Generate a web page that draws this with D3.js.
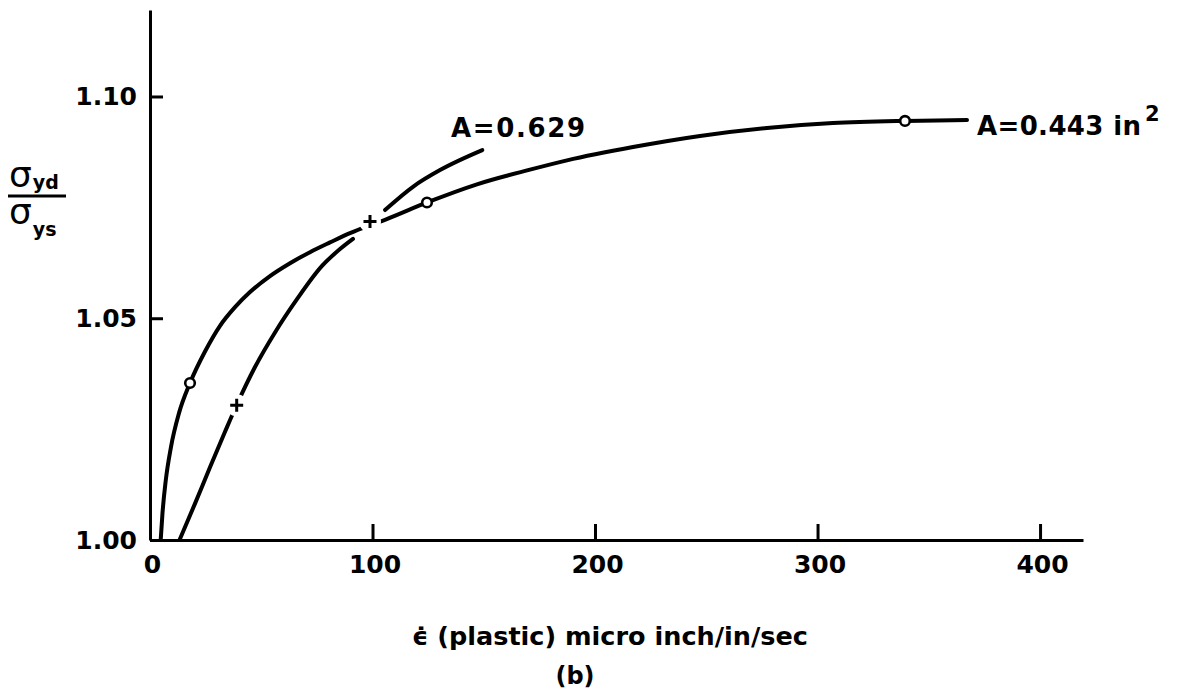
<!DOCTYPE html>
<html><head><meta charset="utf-8">
<script src="https://cdn.jsdelivr.net/npm/d3@7"></script>
<style>
body{margin:0;background:#fff}
svg{display:block}
text{font-family:"DejaVu Sans",sans-serif;fill:#000}
</style>
</head><body>
<svg id="c" width="1184" height="695"></svg>
<script>
// ---- data ----
const xTicks = [0, 100, 200, 300, 400];
const yTicks = [1.00, 1.05, 1.10];
const yTickLabels = ["1.00", "1.05", "1.10"];

// A = 0.443 in^2 curve (open circles)
const curve443 = [[4.81,1.0000],[5.62,1.0061],[7.10,1.0135],[9.44,1.0210],[13.03,1.0286],[17.98,1.0354],
  [24.72,1.0425],[31.46,1.0483],[38.20,1.0525],[44.94,1.0559],[53.93,1.0595],[62.92,1.0624],
  [71.90,1.0649],[80.89,1.0671],[89.88,1.0692],[98.42,1.0709],[105.61,1.0722],[124.48,1.0761],
  [146.95,1.0802],[170.77,1.0835],[187.40,1.0856],[217.06,1.0886],[247.17,1.0911],[277.28,1.0929],
  [306.94,1.0940],[339.30,1.0945],[367.17,1.0947]];
const points443 = [[17.98,1.0354],[124.48,1.0761],[339.30,1.0945]];

// A = 0.629 curve (plus markers), drawn in two pieces
const curve629Lower = [[13.26,1.0000],[20.22,1.0082],[26.96,1.0164],[33.71,1.0244],[39.10,1.0306],
  [47.19,1.0390],[56.18,1.0468],[66.06,1.0543],[77.30,1.0618],[85.39,1.0656],[91.23,1.0679]];
const curve629Upper = [[105.61,1.0744],[118.33,1.0797],[130.33,1.0834],[149.34,1.0879]];
const points629 = [[38.96,1.0304],[98.87,1.0718]];

const labels = [
  {text:"A=0.629", x:451, y:137, w:134},
  {text:"A=0.443 in", x:977, y:135, w:164, sup:"2"}
];

// ---- drawing ----
const svg = d3.select("#c");
const x = d3.scaleLinear().domain([0, 419.3]).range([150, 1083]);
const y = d3.scaleLinear().domain([1.0, 1.1195]).range([540, 10]);

const line = d3.line().x(d=>x(d[0])).y(d=>y(d[1])).curve(d3.curveMonotoneX);

// axes
const gx = svg.append("g").attr("transform","translate(0,540)")
  .call(d3.axisBottom(x).tickValues(xTicks).tickSizeInner(-16).tickSizeOuter(0).tickPadding(15).tickFormat(d3.format("d")));
const gy = svg.append("g").attr("transform","translate(150,0)")
  .call(d3.axisLeft(y).tickValues(yTicks).tickSizeInner(-13).tickSizeOuter(0).tickPadding(13).tickFormat((d,i)=>yTickLabels[i]));
[gx, gy].forEach(g=>{
  g.select(".domain").attr("stroke","#000").attr("stroke-width",3);
  g.selectAll(".tick line").attr("stroke","#000").attr("stroke-width",3);
  g.selectAll(".tick text").attr("font-size",25).attr("font-weight","bold")
    .attr("font-family","DejaVu Sans").attr("fill","#000");
});
gx.selectAll(".tick text").attr("dx", 2);

// curves
const curves = svg.append("g").attr("fill","none").attr("stroke","#000").attr("stroke-width",4).attr("stroke-linecap","round");
curves.append("path").attr("d", line(curve443));
curves.append("path").attr("d", line(curve629Lower));
curves.append("path").attr("d", line(curve629Upper));

// plus markers with white halo (gaps in the line)
const pg = svg.append("g");
pg.selectAll("circle.halo").data(points629).join("circle")
  .attr("cx",d=>x(d[0])).attr("cy",d=>y(d[1])).attr("r",11).attr("fill","#fff");
pg.selectAll("path.plus").data(points629).join("path")
  .attr("d",d=>{const cx=x(d[0]),cy=y(d[1]),a=6.5;return `M${cx-a},${cy}H${cx+a}M${cx},${cy-a}V${cy+a}`;})
  .attr("stroke","#000").attr("stroke-width",3).attr("fill","none");

// open circle markers
svg.append("g").selectAll("circle").data(points443).join("circle")
  .attr("cx",d=>x(d[0])).attr("cy",d=>y(d[1])).attr("r",4.8)
  .attr("fill","#fff").attr("stroke","#000").attr("stroke-width",2.6);

// curve labels
labels.forEach(l=>{
  svg.append("text").attr("x",l.x).attr("y",l.y).attr("font-size",26).attr("font-weight","bold")
    .attr("textLength",l.w).attr("lengthAdjust","spacing").text(l.text);
  if(l.sup){
    svg.append("text").attr("x",l.x+l.w+4).attr("y",l.y-14).attr("font-size",21).attr("font-weight","bold").text(l.sup);
  }
});

// y-axis label: sigma_yd / sigma_ys
const yl = svg.append("g");
const num = yl.append("text").attr("x",9).attr("y",187).attr("font-size",36);
num.append("tspan").text("σ");
num.append("tspan").attr("font-size",19).attr("font-weight","bold").attr("dy",2).attr("dx",1).text("yd");
yl.append("line").attr("x1",8).attr("x2",66).attr("y1",196).attr("y2",196).attr("stroke","#000").attr("stroke-width",3);
const den = yl.append("text").attr("x",9).attr("y",224).attr("font-size",36);
den.append("tspan").text("σ");
den.append("tspan").attr("font-size",19).attr("font-weight","bold").attr("dy",12).attr("dx",1).text("ys");

// x-axis title
const title = svg.append("text").attr("x",412).attr("y",645).attr("font-size",24).attr("font-weight","bold")
  .text("ϵ̇ (plastic) micro inch/in/sec");
const wT = title.node().getComputedTextLength();
title.attr("font-size", 24*396/wT);
svg.append("text").attr("x",575).attr("y",684).attr("font-size",24).attr("font-weight","bold")
  .attr("text-anchor","middle").text("(b)");
</script>
</body></html>
